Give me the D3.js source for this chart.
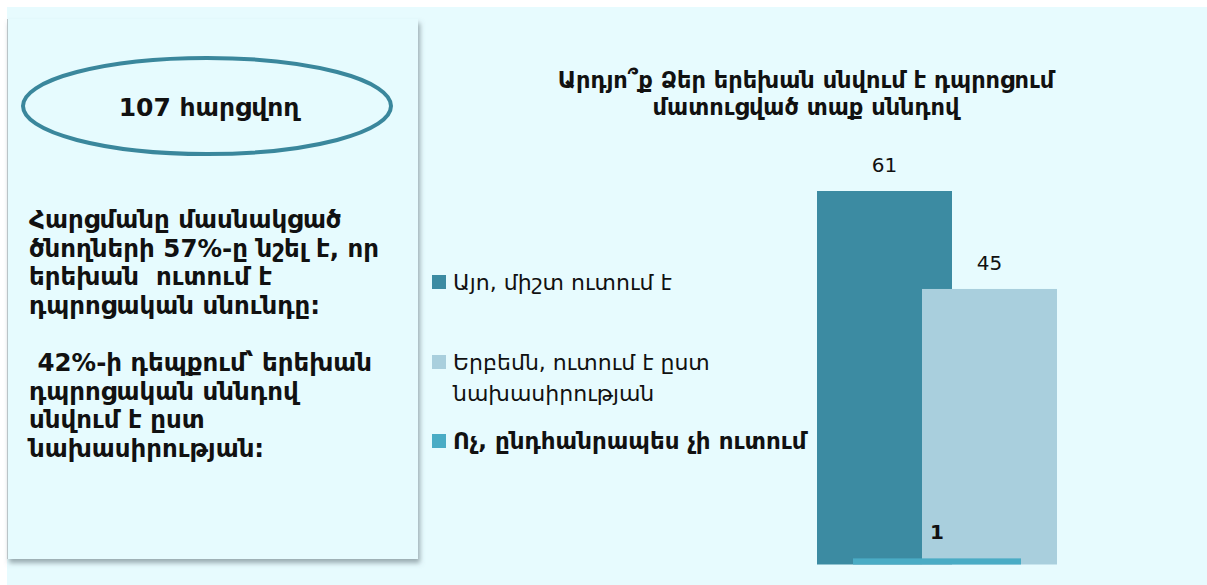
<!DOCTYPE html>
<html>
<head>
<meta charset="utf-8">
<script src="https://cdn.jsdelivr.net/npm/d3@7"></script>
<style>
  body { margin: 0; background: #ffffff; }
  svg { display: block; }
  text { font-family: "DejaVu Sans", sans-serif; }
</style>
</head>
<body>
<svg id="chart" width="1207" height="585"></svg>
<script>
// chart data
var seriesNames = ["Այո, միշտ ուտում է", "Երբեմն, ուտում է ըստ նախասիրության", "Ոչ, ընդհանրապես չի ուտում"];
var legendLines = [["Այո, միշտ ուտում է"], ["Երբեմն, ուտում է ըստ", "նախասիրության"], ["Ոչ, ընդհանրապես չի ուտում"]];
var seriesValues = [61, 45, 1];
var seriesColors = ["#3c8ba2", "#a9cfdd", "#4aacc5"];
var titleLines = ["Արդյո՞ք Ձեր երեխան սնվում է դպրոցում", "մատուցված տաք սննդով"];
var respondents = "107 հարցվող";
var noteLines = ["Հարցմանը մասնակցած", "ծնողների 57%-ը նշել է, որ", "երեխան  ուտում է", "դպրոցական սնունդը:", "", " 42%-ի դեպքում՝ երեխան", "դպրոցական սննդով", "սնվում է ըստ", "նախասիրության:"];

var svg = d3.select("#chart");

// page background
svg.append("rect").attr("x", 7).attr("y", 7).attr("width", 1200).attr("height", 578).attr("fill", "#e7fbfe");

var defs = svg.append("defs");
var shadow = defs.append("filter").attr("id", "shadow").attr("x", "-5%").attr("y", "-5%").attr("width", "115%").attr("height", "115%");
shadow.append("feDropShadow").attr("dx", 2).attr("dy", 4).attr("stdDeviation", 2.5)
    .attr("flood-color", "#5a6a70").attr("flood-opacity", 0.55);

/**
 * Left info panel
 */
var panel = svg.append("g").attr("id", "panel");
panel.append("rect").attr("x", 7).attr("y", 19).attr("width", 411).attr("height", 540)
    .attr("fill", "#e6fbfe").attr("filter", "url(#shadow)");
panel.append("line").attr("x1", 7.5).attr("x2", 7.5).attr("y1", 19).attr("y2", 559)
    .attr("stroke", "#b9c4c7").attr("stroke-width", 1);

panel.append("ellipse").attr("cx", 207).attr("cy", 106).attr("rx", 184).attr("ry", 48)
    .attr("fill", "none").attr("stroke", "#3a879c").attr("stroke-width", 4);
panel.append("text").attr("x", 209).attr("y", 116).attr("text-anchor", "middle")
    .attr("font-size", 25).attr("font-weight", "bold").attr("fill", "#111").text(respondents);

panel.selectAll(".noteLine").data(noteLines).enter().append("text")
    .attr("class", "noteLine")
    .attr("x", 29)
    .attr("y", function (d, i) { return 228 + i * 28.6; })
    .attr("font-size", 24.5).attr("font-weight", "bold").attr("fill", "#111")
    .style("white-space", "pre")
    .text(function (d) { return d; });

/**
 * Bar chart on the right
 */
var chart = svg.append("g").attr("id", "barChart");

chart.selectAll(".title").data(titleLines).enter().append("text")
    .attr("class", "title")
    .attr("x", 806)
    .attr("y", function (d, i) { return 88 + i * 27; })
    .attr("text-anchor", "middle")
    .attr("font-size", 22.5).attr("font-weight", "bold").attr("fill", "#111")
    .text(function (d) { return d; });

var y = d3.scaleLinear().domain([0, 61]).range([564.5, 191]);
// bars overlap: the third series sits between the first two, in front
var x = d3.scalePoint().domain([seriesNames[0], seriesNames[2], seriesNames[1]]).range([884.5, 989.5]);
var barWidths = [135, 135, 168];

var bars = chart.selectAll(".bar").data(seriesValues).enter();
bars.append("rect")
    .attr("class", "bar")
    .attr("x", function (d, i) { return x(seriesNames[i]) - barWidths[i] / 2; })
    .attr("y", function (d) { return y(d); })
    .attr("width", function (d, i) { return barWidths[i]; })
    .attr("height", function (d) { return y(0) - y(d); })
    .attr("fill", function (d, i) { return seriesColors[i]; });

bars.append("text")
    .attr("class", "valueLabel")
    .attr("x", function (d, i) { return x(seriesNames[i]); })
    .attr("y", function (d) { return y(d) - 19; })
    .attr("text-anchor", "middle")
    .attr("font-family", "'Open Sans', sans-serif")
    .attr("font-size", 20)
    .attr("font-weight", function (d, i) { return i === 2 ? "bold" : "normal"; })
    .attr("fill", "#111")
    .text(function (d) { return d; });

// legend
var legendY = [282, 362, 441];
var legend = chart.selectAll(".legendItem").data(legendLines).enter().append("g")
    .attr("class", "legendItem")
    .attr("transform", function (d, i) { return "translate(432," + legendY[i] + ")"; });
legend.append("rect").attr("x", 0).attr("y", -7).attr("width", 14).attr("height", 14)
    .attr("fill", function (d, i) { return seriesColors[i]; });
legend.each(function (lines, i) {
    d3.select(this).selectAll("text").data(lines).enter().append("text")
        .attr("x", 21)
        .attr("y", function (d, j) { return 8 + j * 31; })
        .attr("font-size", i === 2 ? 23 : 22)
        .attr("font-weight", i === 2 ? "bold" : "normal")
        .attr("fill", "#111")
        .text(function (d) { return d; });
});
</script>
</body>
</html>
